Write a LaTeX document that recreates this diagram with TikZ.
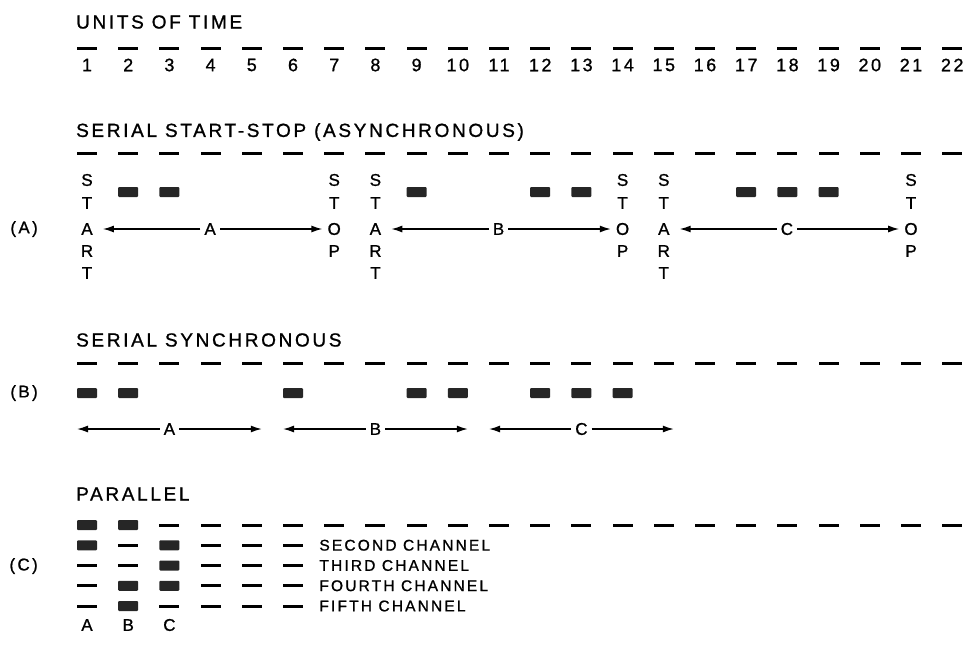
\documentclass[tikz,border=0pt]{standalone}
\usepackage{fontspec}
\setmainfont{Liberation Sans}[LetterSpace=14, FakeBold=1]
\usetikzlibrary{positioning}
\usetikzlibrary{arrows.meta}

\tikzset{
    title/.style={anchor=west, inner sep=0pt, font=\fontsize{19}{19}\selectfont},
    digit/.style={inner sep=1pt, font=\fontsize{18}{18}\selectfont},
    letter/.style={inner sep=2pt, font=\fontsize{17}{17}\selectfont},
    caselabel/.style={letter, anchor=east},
    spanlabel/.style={letter, inner sep=4pt},
    chan/.style={anchor=west, inner sep=0pt, font=\fontsize{15.5}{15.5}\selectfont},
    spacebit/.style={rectangle, fill=black, inner sep=0pt, minimum width=20pt, minimum height=3pt},
    markbit/.style={rectangle, fill=black!85, rounded corners=1pt, inner sep=0pt, minimum width=20pt, minimum height=10pt},
    charspan/.style={-{Latex[length=11pt,width=7pt]}, line width=1.4pt},
}

\begin{document}
\begin{tikzpicture}[x=1pt,y=-1pt]
    % Parameters -- everything is measured in pixels of the plate
    \pgfmathsetmacro{\colone}{87}     % centre of unit of time 1
    \pgfmathsetmacro{\colstep}{41.2}  % width of one unit of time
    \pgfmathsetmacro{\rowstep}{20.25} % distance between two channels
    \useasboundingbox (0,0) rectangle (965,645);

    % Units of time
    \node[title] (unitsT) at (76,22) {UNITS OF TIME};
    \foreach \i in {1,...,22} {
        \node[spacebit] (u\i) at ({\colone+(\i-1)*\colstep},48) {};
        \node[digit] (n\i) at ({\colone+(\i-1)*\colstep},65) {\i};
    }

    % (A) Serial start-stop
    \node[title] (asyncT) at (76,132) {SERIAL START-STOP (ASYNCHRONOUS)};
    \node[caselabel] (caseA) at (40,229) {(A)};
    \foreach \i in {1,...,22}
        \node[spacebit] (a\i) at ({\colone+(\i-1)*\colstep},153) {};
    \foreach \i in {2,3,9,12,13,17,18,19}
        \node[markbit] (ab\i) at ({\colone+(\i-1)*\colstep},192) {};
    \foreach \c/\n in {1/sa,8/sb,15/sc}
        \foreach \l/\yy [count=\k] in {S/180,T/203,A/229,R/251,T/273}
            \node[letter] (\n\k) at ({\colone+(\c-1)*\colstep},\yy) {\l};
    \foreach \c/\n in {7/pa,14/pb,21/pc}
        \foreach \l/\yy [count=\k] in {S/180,T/203,O/229,P/251}
            \node[letter] (\n\k) at ({\colone+(\c-1)*\colstep},\yy) {\l};
    % one character between start and stop
    \foreach \g/\s/\p in {A/sa/pa,B/sb/pb,C/sc/pc} {
        \path (\s3) -- (\p3) node[spanlabel,midway] (am\g) {\g};
        \draw[charspan,shorten >=8pt] (am\g) -- (\s3);
        \draw[charspan,shorten >=3pt] (am\g) -- (\p3);
    }

    % (B) Serial synchronous
    \node[title] (syncT) at (76,340) {SERIAL SYNCHRONOUS};
    \node[caselabel] (caseB) at (40,393) {(B)};
    \foreach \i in {1,...,22}
        \node[spacebit] (b\i) at ({\colone+(\i-1)*\colstep},363) {};
    \foreach \i in {1,2,6,9,10,12,13,14}
        \node[markbit] (bb\i) at ({\colone+(\i-1)*\colstep},393) {};
    % five units per character
    \foreach \g/\c in {A/1,B/6,C/11} {
        \coordinate (bl\g) at ({\colone+(\c-1)*\colstep-10},429);
        \coordinate (br\g) at ({\colone+(\c+3)*\colstep+10},429);
        \node[spanlabel] (bm\g) at ({\colone+(\c+1)*\colstep},429) {\g};
        \draw[charspan] (bm\g) -- (bl\g);
        \draw[charspan] (bm\g) -- (br\g);
    }

    % (C) Parallel
    \node[title] (parT) at (76,494) {PARALLEL};
    \node[caselabel] (caseC) at (40,566) {(C)};
    \foreach \c/\r in {1/1,2/1,1/2,3/2,3/3,2/4,3/4,2/5}
        \node[markbit] (p\r-\c) at ({\colone+(\c-1)*\colstep},{525+(\r-1)*\rowstep}) {};
    \foreach \c/\r in {3/1,2/2,1/3,2/3,1/4,1/5,3/5}
        \node[spacebit] (p\r-\c) at ({\colone+(\c-1)*\colstep},{525+(\r-1)*\rowstep}) {};
    \foreach \c in {4,...,22}
        \node[spacebit] (p1-\c) at ({\colone+(\c-1)*\colstep},525) {};
    \foreach \r/\chname in {2/SECOND,3/THIRD,4/FOURTH,5/FIFTH} {
        \foreach \c in {4,5,6}
            \node[spacebit] (p\r-\c) at ({\colone+(\c-1)*\colstep},{525+(\r-1)*\rowstep}) {};
        \node[chan,right=16pt of p\r-6] (ch\r) {\chname\ CHANNEL};
    }
    \foreach \l [count=\c] in {A,B,C}
        \node[letter] (pc\l) at ({\colone+(\c-1)*\colstep},625) {\l};
\end{tikzpicture}
\end{document}
